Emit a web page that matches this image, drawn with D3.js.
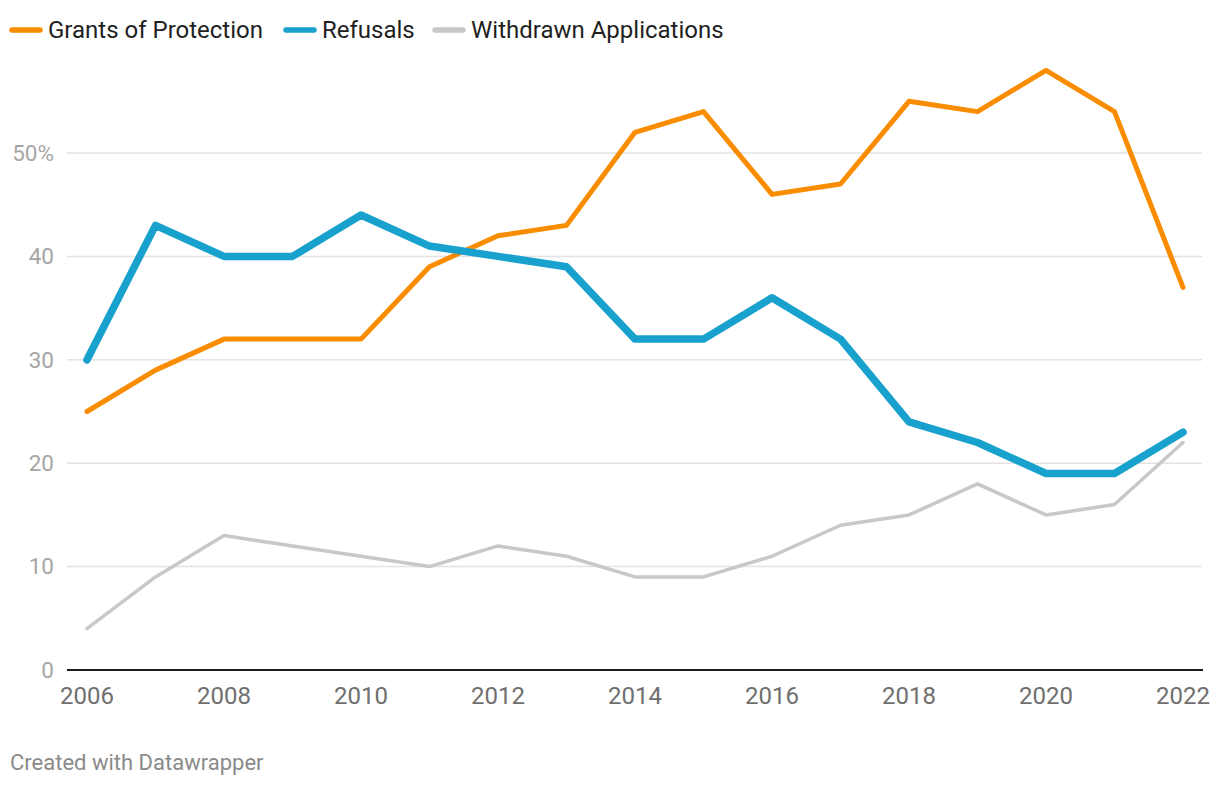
<!DOCTYPE html>
<html>
<head>
<meta charset="utf-8">
<script src="https://cdn.jsdelivr.net/npm/d3@7"></script>
<style>
  html, body { margin: 0; padding: 0; background: #fff; }
  svg { display: block; font-family: Roboto, "Noto Sans", sans-serif; }
</style>
</head>
<body>
<svg id="chart" width="1220" height="786"></svg>
<script>
const years = [2006,2007,2008,2009,2010,2011,2012,2013,2014,2015,2016,2017,2018,2019,2020,2021,2022];
const grants = [25,29,32,32,32,39,42,43,52,54,46,47,55,54,58,54,37];
const refusals = [30,43,40,40,44,41,40,39,32,32,36,32,24,22,19,19,23];
const withdrawn = [4,9,13,12,11,10,12,11,9,9,11,14,15,18,15,16,22];
const yTicks = [0,10,20,30,40,50];
const xTicks = [2006,2008,2010,2012,2014,2016,2018,2020,2022];

const seriesList = [
  { name: "Grants of Protection", values: grants, color: "#fa8c00", width: 5 },
  { name: "Refusals", values: refusals, color: "#18a1cd", width: 7.5 },
  { name: "Withdrawn Applications", values: withdrawn, color: "#c8c8c8", width: 3.5 }
];

const svg = d3.select("#chart");
const x = d3.scaleLinear().domain([2006, 2022]).range([87, 1183]);
const y = d3.scaleLinear().domain([0, 50]).range([670, 153]);

// gridlines + y labels
const yAxis = svg.append("g").attr("class", "y-axis");
yTicks.forEach(t => {
  if (t !== 0) {
    yAxis.append("line")
      .attr("x1", 67).attr("x2", 1202)
      .attr("y1", y(t)).attr("y2", y(t))
      .attr("stroke", "#e3e3e3").attr("stroke-width", 1.5);
  }
  yAxis.append("text")
    .attr("x", 54).attr("y", y(t))
    .attr("dy", "0.35em")
    .attr("text-anchor", "end")
    .attr("font-size", 22.5)
    .attr("fill", "#a6a6a6")
    .text(t === 50 ? "50%" : String(t));
});

// baseline
svg.append("line")
  .attr("x1", 67).attr("x2", 1203)
  .attr("y1", y(0)).attr("y2", y(0))
  .attr("stroke", "#1a1a1a").attr("stroke-width", 2);

// x labels
const xAxis = svg.append("g").attr("class", "x-axis");
xTicks.forEach(t => {
  xAxis.append("text")
    .attr("x", x(t)).attr("y", 703.5)
    .attr("text-anchor", "middle")
    .attr("font-size", 24)
    .attr("fill", "#6f6f6f")
    .text(String(t));
});

// lines
const line = d3.line().x((d, i) => x(years[i])).y(d => y(d));
[seriesList[2], seriesList[0], seriesList[1]].forEach(s => {
  svg.append("path")
    .datum(s.values)
    .attr("d", line)
    .attr("fill", "none")
    .attr("stroke", s.color)
    .attr("stroke-width", s.width)
    .attr("stroke-linejoin", "round")
    .attr("stroke-linecap", "round");
});

// legend
const legend = svg.append("g").attr("class", "legend");
const legendX = [12, 286, 435];
seriesList.forEach((s, i) => {
  const g = legend.append("g").attr("transform", `translate(${legendX[i]},30)`);
  g.append("line")
    .attr("x1", 0).attr("x2", 28)
    .attr("y1", 0).attr("y2", 0)
    .attr("stroke", s.color)
    .attr("stroke-width", 5.5)
    .attr("stroke-linecap", "round");
  g.append("text")
    .attr("x", 36).attr("y", 0)
    .attr("dy", "0.35em")
    .attr("font-size", 24)
    .attr("fill", "#1f1f1f")
    .text(s.name);
});

// footer
svg.append("text")
  .attr("x", 10).attr("y", 770)
  .attr("font-size", 22)
  .attr("fill", "#8a8a8a")
  .text("Created with Datawrapper");
</script>
</body>
</html>
